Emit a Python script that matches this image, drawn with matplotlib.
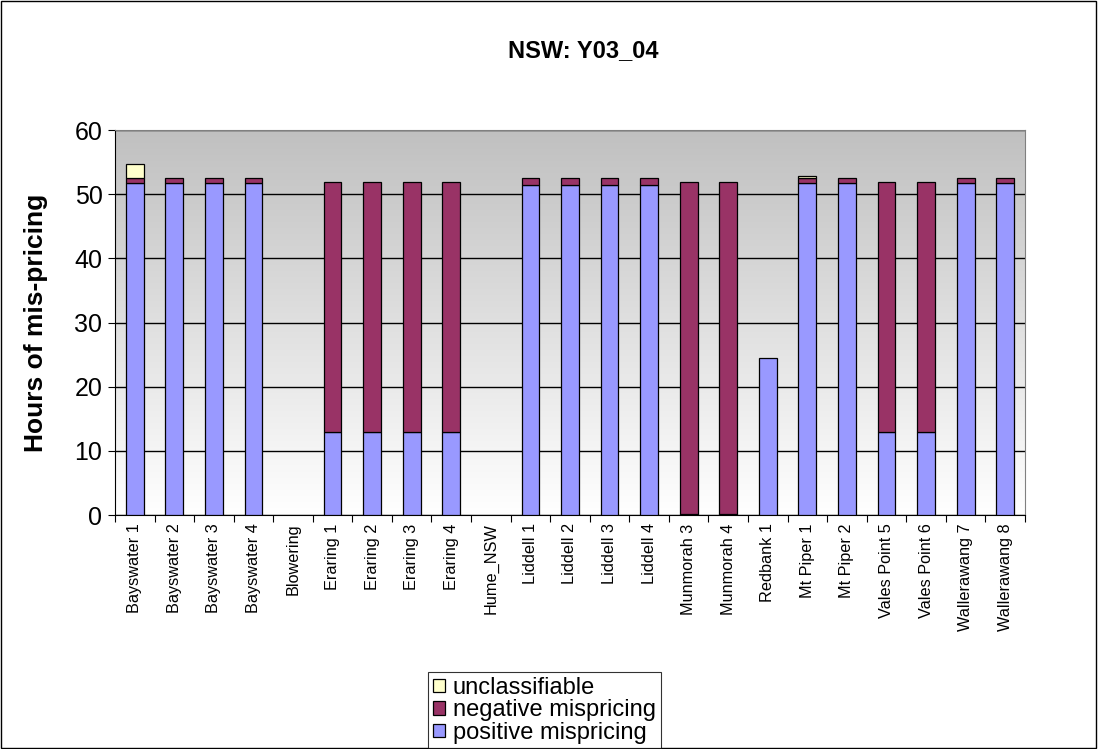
import numpy as np
import matplotlib
matplotlib.use("Agg")
import matplotlib.pyplot as plt
from matplotlib.colors import LinearSegmentedColormap
from matplotlib.patches import Rectangle

plt.rcParams['font.family'] = ['Liberation Sans', 'DejaVu Sans']

units = ["Bayswater 1", "Bayswater 2", "Bayswater 3", "Bayswater 4", "Blowering",
         "Eraring 1", "Eraring 2", "Eraring 3", "Eraring 4", "Hume_NSW",
         "Liddell 1", "Liddell 2", "Liddell 3", "Liddell 4", "Munmorah 3",
         "Munmorah 4", "Redbank 1", "Mt Piper 1", "Mt Piper 2", "Vales Point 5",
         "Vales Point 6", "Wallerawang 7", "Wallerawang 8"]
positive = [51.7, 51.7, 51.7, 51.7, 0, 13.0, 13.0, 13.0, 13.0, 0,
            51.4, 51.4, 51.4, 51.4, 0.2, 0.2, 24.5, 51.7, 51.7, 13.0,
            13.0, 51.7, 51.7]
negative = [0.9, 0.9, 0.9, 0.9, 0, 38.9, 38.9, 38.9, 38.9, 0,
            1.2, 1.2, 1.2, 1.2, 51.7, 51.7, 0, 0.8, 0.9, 38.9,
            38.9, 0.9, 0.9]
unclass = [2.1, 0, 0, 0, 0, 0, 0, 0, 0, 0,
           0, 0, 0, 0, 0, 0, 0, 0.3, 0, 0,
           0, 0, 0]

C_POS, C_NEG, C_UNC = "#9999FF", "#993366", "#FFFFCC"

fig = plt.figure(figsize=(10.98, 7.49), dpi=100)
fig.patches.append(Rectangle((0.001, 0.001), 0.997, 0.997, transform=fig.transFigure,
                             fill=False, edgecolor="black", lw=1))
ax = fig.add_axes([0.1047, 0.3124, 0.8288, 0.514])

# gray (top) to white (bottom) plot-area fill
grad = np.linspace(0, 1, 256)[:, None]
bg = LinearSegmentedColormap.from_list("bg", ["#C0C0C0", "#FFFFFF"])
ax.imshow(grad, aspect="auto", cmap=bg, extent=[-0.5, len(units) - 0.5, 0, 60],
          zorder=0)

x = np.arange(len(units))
pos = np.array(positive); neg = np.array(negative); unc = np.array(unclass)
w = 0.45

def edges(vals):
    # no outline for empty segments
    return [0.9 if v > 0 else 0 for v in vals]

ax.bar(x, pos, w, color=C_POS, edgecolor="black", lw=edges(pos), zorder=3,
       label="positive mispricing")
ax.bar(x, neg, w, bottom=pos, color=C_NEG, edgecolor="black", lw=edges(neg), zorder=3,
       label="negative mispricing")
ax.bar(x, unc, w, bottom=pos + neg, color=C_UNC, edgecolor="black", lw=edges(unc),
       zorder=3, label="unclassifiable")

ax.set_xlim(-0.5, len(units) - 0.5)
ax.set_ylim(0, 60)
ax.set_yticks(range(0, 61, 10))
ax.yaxis.grid(True, color="black", lw=1)
for gl in ax.get_ygridlines():
    gl.set_zorder(1)
ax.set_xticks(np.arange(-0.5, len(units), 1), minor=False)
ax.set_xticklabels([])
ax.set_xticks(x, minor=True)
ax.set_xticklabels(units, minor=True, rotation=90, fontsize=11.7)
ax.tick_params(axis="x", which="minor", length=0, pad=6)
ax.tick_params(axis="x", which="major", length=5, direction="out")
ax.tick_params(axis="y", labelsize=18, length=5, direction="out", pad=4)
for s in ["top", "right"]:
    ax.spines[s].set_color("#808080")

ax.set_ylabel("Hours of mis-pricing", fontsize=19, fontweight="bold")
ax.yaxis.set_label_coords(-0.074, 0.5)
fig.text(0.5315, 0.933, "NSW: Y03_04", ha="center", va="center", fontsize=17,
         fontweight="bold")

h, l = ax.get_legend_handles_labels()
leg = fig.legend(h[::-1], l[::-1], loc="upper left",
                 bbox_to_anchor=(428 / 1098, 1 - 672 / 749), fontsize=17,
                 frameon=True, fancybox=False, edgecolor="black",
                 handlelength=0.5, handleheight=0.5, handletextpad=0.35,
                 labelspacing=0.02, borderpad=0.2, borderaxespad=0)
leg.get_frame().set_linewidth(0.8)

fig.savefig("out.png", dpi=100)
